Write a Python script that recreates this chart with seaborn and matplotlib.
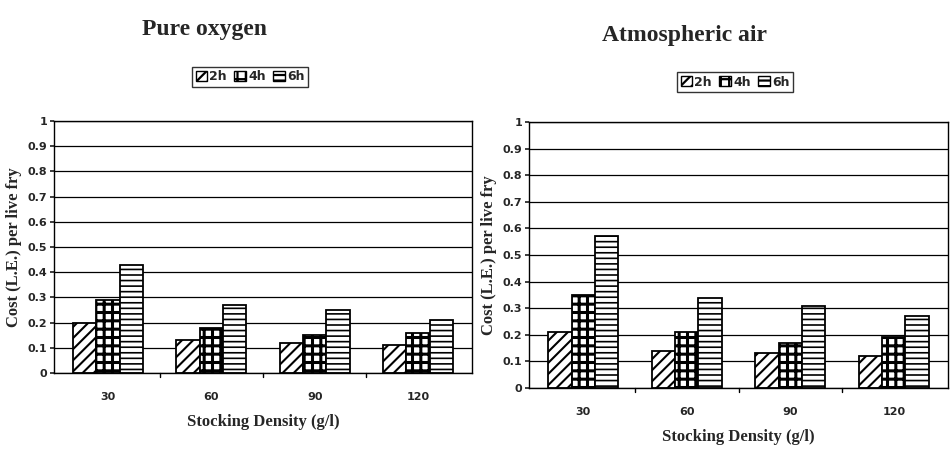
import matplotlib
matplotlib.use("Agg")
import matplotlib.pyplot as plt
import seaborn as sns
import pandas as pd
import numpy as np
from matplotlib.patches import Patch

densities = ["30", "60", "90", "120"]
durations = ["2h", "4h", "6h"]
oxygen_2h = [0.20, 0.13, 0.12, 0.11]
oxygen_4h = [0.29, 0.18, 0.15, 0.16]
oxygen_6h = [0.43, 0.27, 0.25, 0.21]
air_2h = [0.21, 0.14, 0.13, 0.12]
air_4h = [0.35, 0.21, 0.17, 0.19]
air_6h = [0.57, 0.34, 0.31, 0.27]
yticks = [0, 0.1, 0.2, 0.3, 0.4, 0.5, 0.6, 0.7, 0.8, 0.9, 1]
ytick_labels = ["0", "0.1", "0.2", "0.3", "0.4", "0.5", "0.6", "0.7", "0.8", "0.9", "1"]

def make_df(a, b, c):
    rows = []
    for d, vals in zip(durations, [a, b, c]):
        for x, v in zip(densities, vals):
            rows.append({"Density": x, "Duration": d, "Cost": v})
    return pd.DataFrame(rows)

sns.set_theme(style="white")
plt.rcParams["hatch.linewidth"] = 1.6
serif = ["Liberation Serif", "DejaVu Serif"]
narrow = ["Liberation Sans Narrow", "DejaVu Sans"]

fig = plt.figure(figsize=(9.52, 4.51), dpi=100)
W, H = 952, 451
panels = [
    ("Pure oxygen", make_df(oxygen_2h, oxygen_4h, oxygen_6h), (54, 121, 472, 373), (205, 30), (250, 77)),
    ("Atmospheric air", make_df(air_2h, air_4h, air_6h), (529, 122, 948, 388), (685, 35), (735, 82)),
]
hatches = ["///", "++", "---"]
hatch_lw = [1.5, 2.2, 1.2]

def style_patch(p, h, lw):
    p.set_hatch(h)
    p.set_facecolor("white")
    p.set_edgecolor("black")
    if hasattr(p, "set_hatch_linewidth"):
        p.set_hatch_linewidth(lw)

for title, df, (x0, y0, x1, y1), (tx, ty), (lx, ly) in panels:
    ax = fig.add_axes([x0 / W, 1 - y1 / H, (x1 - x0) / W, (y1 - y0) / H])
    sns.barplot(data=df, x="Density", y="Cost", hue="Duration", ax=ax,
                width=0.68, gap=0, palette=["white"] * 3,
                edgecolor="black", linewidth=1.3, legend=False)
    for cont, h, lw in zip(ax.containers, hatches, hatch_lw):
        for p in cont:
            style_patch(p, h, lw)
    ax.set_ylim(0, 1)
    ax.set_yticks(yticks)
    ax.set_yticklabels(ytick_labels, fontfamily=narrow, fontsize=8, fontweight="bold")
    ax.set_xticks(range(len(densities)))
    ax.set_xticklabels(densities, fontfamily=narrow, fontsize=8, fontweight="bold")
    ax.tick_params(axis="x", length=0, pad=14)
    ax.tick_params(axis="y", length=3, direction="out", left=True, pad=2)
    for b in [0.5, 1.5, 2.5]:
        ax.plot([b, b], [0, -0.015], color="black", lw=1, clip_on=False)
    ax.grid(axis="y", color="black", linewidth=0.9)
    ax.set_axisbelow(True)
    for s in ax.spines.values():
        s.set_color("black")
        s.set_linewidth(1)
    ax.set_xlabel("Stocking Density (g/l)", fontfamily=serif, fontsize=12, fontweight="bold", labelpad=8)
    ax.set_ylabel("Cost (L.E.) per live fry", fontfamily=serif, fontsize=12, fontweight="bold", labelpad=4)
    fig.text(tx / W, 1 - ty / H, title, ha="center", va="center",
             fontfamily=serif, fontsize=17, fontweight="bold")
    handles = []
    for h, d, lw in zip(hatches, durations, hatch_lw):
        hp = Patch(label=d)
        style_patch(hp, h, lw)
        handles.append(hp)
    leg = fig.legend(handles=handles, loc="center", bbox_to_anchor=(lx / W, 1 - ly / H), ncol=3,
                     frameon=True, fancybox=False, edgecolor="black", handlelength=0.9, handleheight=0.9,
                     handletextpad=0.2, columnspacing=0.6, borderpad=0.25,
                     prop={"family": narrow, "size": 9, "weight": "bold"})
    leg.get_frame().set_linewidth(1)

fig.savefig("out.png", dpi=100, facecolor="white")
